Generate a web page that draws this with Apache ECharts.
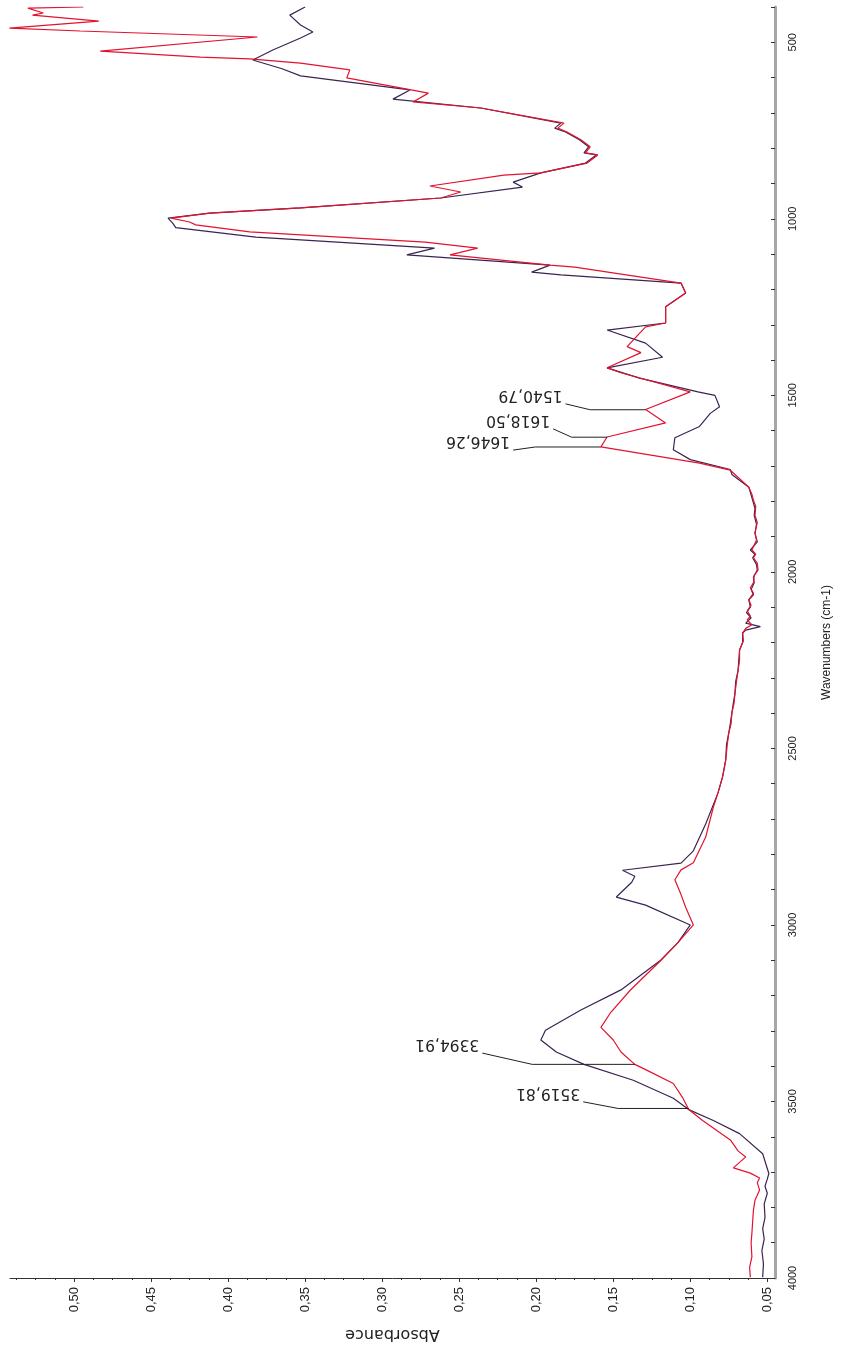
<!DOCTYPE html>
<html>
<head>
<meta charset="utf-8">
<script src="https://cdn.jsdelivr.net/npm/echarts@6/dist/echarts.min.js"></script>
<style>
html,body{margin:0;padding:0;background:#fff;}
#chart{width:842px;height:1348px;}
</style>
</head>
<body>
<div id="chart"></div>
<script>
// ---- data ----
const redWn = [400,403,417,423,440,460,468,485,525,542,547,559,578,601,644,669,686,729,743,754,776,796,813,819,842,870,876,907,924,941,969,984,998,1009,1017,1037,1066,1083,1102,1131,1137,1182,1210,1249,1295,1306,1362,1379,1422,1436,1490,1540,1578,1618,1646,1692,1712,1760,1780,1797,1815,1840,1860,1890,1910,1938,1950,1960,1975,1995,2010,2031,2045,2060,2079,2095,2110,2125,2136,2150,2160,2173,2195,2221,2250,2280,2310,2344,2370,2400,2430,2456,2490,2533,2580,2626,2666,2751,2824,2844,2872,2914,2950,3000,3050,3100,3185,3250,3290,3326,3360,3395,3412,3449,3489,3523,3554,3609,3640,3657,3688,3703,3717,3730,3751,3780,3808,3840,3873,3900,3940,3970,3998];
const redAbs = [0.494,0.530,0.520,0.527,0.484,0.542,0.496,0.381,0.483,0.418,0.386,0.353,0.321,0.323,0.270,0.280,0.236,0.182,0.186,0.180,0.171,0.165,0.168,0.160,0.167,0.197,0.221,0.269,0.249,0.262,0.353,0.412,0.437,0.425,0.421,0.386,0.272,0.238,0.256,0.191,0.175,0.106,0.103,0.116,0.116,0.129,0.141,0.132,0.154,0.145,0.100,0.129,0.116,0.154,0.158,0.094,0.074,0.062,0.060,0.059,0.0575,0.058,0.0565,0.058,0.057,0.060,0.0575,0.059,0.0565,0.056,0.0585,0.059,0.061,0.059,0.062,0.0605,0.063,0.061,0.063,0.060,0.064,0.066,0.0655,0.068,0.068,0.069,0.070,0.071,0.0715,0.073,0.0735,0.075,0.076,0.077,0.079,0.082,0.085,0.090,0.098,0.106,0.110,0.106,0.103,0.098,0.108,0.119,0.139,0.152,0.158,0.150,0.145,0.136,0.128,0.111,0.105,0.101,0.092,0.074,0.069,0.064,0.072,0.061,0.055,0.0565,0.055,0.058,0.059,0.0595,0.060,0.0605,0.060,0.0615,0.061];

const darkWn = [400,423,451,471,488,522,550,575,595,635,661,686,729,743,754,776,796,813,819,842,870,896,910,941,969,984,998,1012,1025,1052,1083,1102,1131,1151,1159,1182,1210,1249,1295,1315,1352,1392,1422,1451,1490,1500,1532,1551,1588,1620,1654,1682,1710,1724,1760,1775,1797,1820,1840,1865,1890,1915,1938,1950,1960,1980,1995,2015,2031,2050,2065,2079,2100,2115,2130,2145,2155,2165,2173,2200,2221,2250,2280,2310,2344,2370,2400,2430,2456,2490,2533,2580,2626,2714,2790,2825,2845,2862,2879,2921,2944,3000,3050,3099,3184,3241,3298,3326,3360,3395,3440,3491,3523,3554,3591,3648,3704,3720,3740,3760,3790,3829,3860,3890,3922,3960,3998];
const darkAbs = [0.350,0.360,0.353,0.345,0.353,0.371,0.384,0.365,0.353,0.282,0.293,0.236,0.184,0.188,0.181,0.172,0.166,0.169,0.161,0.168,0.197,0.215,0.209,0.262,0.353,0.412,0.439,0.436,0.434,0.382,0.266,0.284,0.191,0.203,0.184,0.106,0.103,0.116,0.116,0.154,0.129,0.118,0.154,0.133,0.095,0.084,0.081,0.087,0.094,0.110,0.111,0.100,0.074,0.073,0.062,0.061,0.0595,0.058,0.0585,0.057,0.058,0.0565,0.061,0.058,0.0595,0.057,0.0565,0.059,0.0585,0.0605,0.059,0.062,0.061,0.0635,0.0605,0.064,0.0545,0.064,0.066,0.066,0.068,0.0685,0.069,0.0705,0.071,0.072,0.073,0.074,0.075,0.0765,0.077,0.079,0.082,0.090,0.098,0.106,0.144,0.136,0.138,0.148,0.129,0.100,0.108,0.119,0.145,0.171,0.194,0.197,0.187,0.169,0.137,0.111,0.101,0.085,0.068,0.053,0.049,0.050,0.0515,0.050,0.052,0.0515,0.053,0.052,0.0535,0.0525,0.053];

const absTicks = [0.05,0.10,0.15,0.20,0.25,0.30,0.35,0.40,0.45,0.50];
const wnTicks = [500,1000,1500,2000,2500,3000,3500,4000];

// peak annotations
const annText = ['1540,79','1618,50','1646,26','3394,91','3519,81'];
const annWn = [1540.79,1618.50,1646.26,3394.91,3519.81];
const annPeakAbs = [0.129,0.154,0.158,0.136,0.101];
const annElbowAbs = [0.165,0.177,0.2006,0.2026,0.1468];
const annEndAbs = [0.181,0.189,0.215,0.235,0.1695];
const annEndWn = [1524,1595,1655,3363,3501];

// ---- chart ----
const chart = echarts.init(document.getElementById('chart'));
const fmt = v => v.toFixed(2).replace('.', ',');
const minorAbs = [];
for (let i = 0; i <= 39; i++) minorAbs.push(+(0.05 + i * 0.0125).toFixed(4));

const series = [
  {
    type: 'line', name: 'dark', showSymbol: false, symbol: 'none', silent: true,
    data: darkWn.map((w, i) => [darkAbs[i], w]),
    lineStyle: { color: '#3a2452', width: 1.2 }, z: 3
  },
  {
    type: 'line', name: 'red', showSymbol: false, symbol: 'none', silent: true,
    data: redWn.map((w, i) => [redAbs[i], w]),
    lineStyle: { color: '#e3122f', width: 1.2 }, z: 4
  }
];
annWn.forEach((w, i) => {
  series.push({
    type: 'line', showSymbol: false, symbol: 'none', silent: true,
    data: [[annPeakAbs[i], w], [annElbowAbs[i], w], [annEndAbs[i], annEndWn[i]]],
    lineStyle: { color: '#222', width: 1 }, z: 5
  });
});

chart.setOption({
  animation: false,
  backgroundColor: '#fff',
  grid: { left: 10, right: 67, top: 7, bottom: 70 },
  xAxis: [
    {
      type: 'value', position: 'bottom', inverse: true, min: 0.045, max: 0.5416,
      name: 'Absorbance', nameLocation: 'middle', nameGap: 48, nameRotate: 180,
      nameTextStyle: { fontFamily: 'DejaVu Sans', fontSize: 16, color: '#222' },
      axisLine: { onZero: false, lineStyle: { color: '#333', width: 1 } },
      axisTick: { customValues: absTicks, length: 4, lineStyle: { color: '#333' } },
      axisLabel: { customValues: absTicks, rotate: 90, margin: 9, formatter: fmt,
        fontFamily: 'Liberation Sans', fontSize: 13, color: '#222' },
      splitLine: { show: false }
    },
    {
      type: 'value', position: 'bottom', inverse: true, min: 0.045, max: 0.5416,
      axisLine: { show: false, onZero: false },
      axisTick: { customValues: minorAbs, length: 2, lineStyle: { color: '#333' } },
      axisLabel: { show: false }, splitLine: { show: false }
    }
  ],
  yAxis: {
    type: 'value', position: 'right', inverse: true, min: 400, max: 4000, interval: 100,
    name: 'Wavenumbers (cm-1)', nameLocation: 'middle', nameGap: 46, nameRotate: 90,
    nameTextStyle: { fontFamily: 'Liberation Sans', fontSize: 12, color: '#222' },
    axisLine: { onZero: false, lineStyle: { color: '#a6a6a6', width: 3 } },
    axisTick: { inside: true, length: 4, lineStyle: { color: '#333' } },
    axisLabel: { customValues: wnTicks, rotate: 90, margin: 12, formatter: v => String(v),
      fontFamily: 'Liberation Sans', fontSize: 11, color: '#222' },
    splitLine: { show: false }
  },
  series: series
});

// annotation labels, placed through the chart's own scales
const graphics = annText.map((t, i) => {
  const p = chart.convertToPixel({ xAxisIndex: 0, yAxisIndex: 0 }, [annEndAbs[i], annEndWn[i]]);
  return {
    type: 'text', x: p[0] - 3, y: p[1] - 9, rotation: Math.PI, silent: true,
    style: { text: t, fontFamily: 'DejaVu Sans', fontSize: 15.5, fill: '#222',
      align: 'left', verticalAlign: 'middle' }
  };
});
chart.setOption({ graphic: graphics });
</script>
</body>
</html>
